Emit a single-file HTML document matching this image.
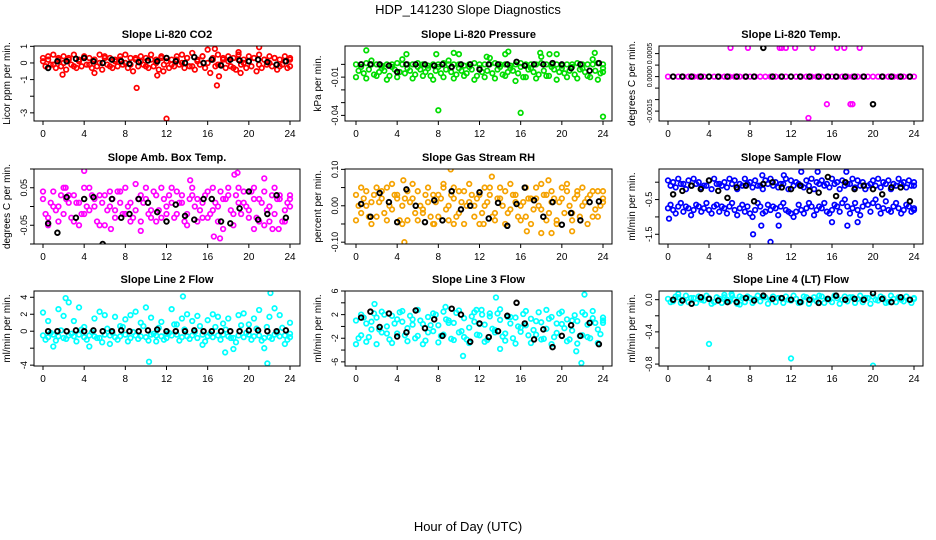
<!DOCTYPE html>
<html><head><meta charset="utf-8"><style>
html,body{margin:0;padding:0;background:#fff;}
svg{display:block;font-family:"Liberation Sans",sans-serif;}
</style></head><body>
<svg id="chart" width="936" height="540" viewBox="0 0 936 540">
<text x="468" y="14" font-size="13" text-anchor="middle">HDP_141230  Slope Diagnostics</text>
<text x="468" y="531" font-size="13" text-anchor="middle">Hour of Day (UTC)</text>
</svg>
<script>
// shared hour arrays
const H = [0,0.5,1,1.5,2,2.5,3,3.5,4,4.5,5,5.5,6,6.5,7,7.5,8,8.5,9,9.5,10,10.5,11,11.5,12,12.5,13,13.5,14,14.5,15,15.5,16,16.5,17,17.5,18,18.5,19,19.5,20,20.5,21,21.5,22,22.5,23,23.5,24];
const HB = [0.5,1.4,2.3,3.2,4.0,4.9,5.8,6.7,7.6,8.4,9.3,10.2,11.1,12.0,12.9,13.8,14.7,15.6,16.4,17.3,18.2,19.1,20.0,20.9,21.8,22.7,23.6];
const xTicks = [0,4,8,12,16,20,24];

// CO2
const co2A = [0.1,0.2,-0.1,0.3,0.0,0.2,-0.2,0.1,0.3,-0.1,0.2,0.0,0.3,-0.2,0.1,0.2,0.0,-0.1,0.3,0.1,-0.2,0.2,0.0,0.3,0.1,-0.1,0.2,0.0,0.3,-0.2,0.1,0.4,0.0,0.2,-0.1,0.3,0.1,-0.3,0.2,0.0,0.1,0.3,-0.1,0.2,0.0,0.3,-0.2,0.1,0.2];
const co2B = [-0.2,-0.1,-0.3,-0.2,-0.4,-0.1,-0.3,-0.2,-0.1,-0.3,-0.2,-0.4,-0.1,-0.3,-0.2,-0.1,-0.3,-0.5,-0.2,-0.1,-0.3,-0.2,-0.4,-0.1,-0.3,-0.2,-0.1,-0.3,-0.2,-0.4,-0.1,-0.3,-0.6,-0.2,-0.1,-0.3,-0.2,-0.4,-0.1,-0.3,-0.2,-0.5,-0.3,-0.1,-0.2,-0.4,-0.1,-0.3,-0.2];
const co2C = [0.3,0.4,0.5,0.2,0.4,0.3,0.5,0.2,0.4,0.3,0.2,0.5,0.4,0.3,0.2,0.4,0.5,0.3,0.2,0.4,0.3,0.5,0.2,0.4,0.3,0.2,0.4,0.5,0.3,0.6,0.2,0.4,0.8,0.3,0.5,0.2,0.4,0.3,0.5,0.2,0.4,0.3,0.5,0.2,0.4,0.3,0.2,0.4,0.3];
const co2OutH = [1.9,5.0,9.1,11.1,11.7,12,16.9,17.1,16.7,21,19,19.2];
const co2OutV = [-0.7,-0.6,-1.5,-0.75,-0.5,-3.35,-1.35,-0.8,0.85,0.95,0.65,-0.6];
const co2Blk = [-0.3,0.1,0.1,0.25,0.3,0.1,0.0,0.2,0.1,-0.05,0.05,0.15,0.1,0.3,0.1,0.0,0.35,0.0,0.2,-0.15,0.2,0.15,0.1,0.2,0.05,-0.1,0.1];

// Pressure
const prA = [0,0,0.001,0,0,-0.001,0,0,0.001,0,0,0,0.001,0,-0.001,0,0,0.001,0,0,0,-0.001,0,0.001,0,0,0,0.001,0,0,-0.001,0,0.001,0,0,0,0.001,0,0,0,-0.001,0,0,0.001,0,0,0,0.001,0];
const prB = [-0.005,-0.007,-0.004,-0.008,-0.006,-0.005,-0.009,-0.004,-0.006,-0.007,-0.005,-0.008,-0.004,-0.006,-0.009,-0.005,-0.007,-0.004,-0.006,-0.008,-0.005,-0.007,-0.004,-0.009,-0.006,-0.005,-0.007,-0.004,-0.008,-0.006,-0.005,-0.007,-0.010,-0.004,-0.006,-0.008,-0.005,-0.009,-0.004,-0.006,-0.007,-0.005,-0.008,-0.004,-0.006,-0.010,-0.005,-0.007,-0.006];
const prC = [-0.010,-0.002,-0.011,0.003,-0.009,-0.003,-0.012,-0.002,-0.010,0.004,-0.003,-0.011,-0.002,-0.009,-0.003,-0.012,-0.002,-0.010,0.003,-0.011,-0.003,-0.009,-0.002,-0.012,-0.003,-0.010,0.005,-0.011,-0.002,-0.009,-0.003,-0.013,-0.002,-0.010,-0.003,-0.011,0.006,-0.009,-0.002,-0.012,-0.003,-0.010,-0.002,-0.011,-0.003,-0.009,0.004,-0.012,-0.003];
const prOutH = [1,7.8,8,9.5,10,14.5,14.8,16,17.9,18.8,19.5,23.2,24,12.7,4.9];
const prOutV = [0.011,0.008,-0.036,0.009,0.008,0.008,0.010,-0.038,0.009,0.008,0.008,0.009,-0.041,0.006,0.008];
const prBlk = [0,0,0,-0.001,-0.006,0,0,0,-0.001,0,-0.002,0,0,-0.004,0,0,0,0.002,-0.001,0,0,0.001,0,-0.003,0,-0.005,0.001];

// Li-820 Temp
const tpA = [0,0,0,0,0,0,0,0,0,0,0,0,0,0,0,0,0,0,0,0,0,0,0,0,0,0,0,0,0,0,0,0,0,0,0,0,0,0,0,0,0,0,0,0,0,0,0,0,0];
const tpOutH = [6.1,7.8,10.9,11.1,11.5,12.4,14.1,16.5,17.2,18.7,15.5,17.8,18.0,13.7];
const tpOutV = [0.00125,0.00125,0.00125,0.00125,0.00125,0.00125,0.00125,0.00125,0.00125,0.00125,-0.0012,-0.0012,-0.0012,-0.0018];
const tpBlk = [0,0,0,0,0,0,0,0,0,0,0.00125,0,0,0,0,0,0,0,0,0,0,0,-0.0012,0,0,0,0];

// Amb Box Temp
const abA = [0.02,-0.03,0.04,0.00,-0.02,0.03,-0.04,0.01,0.05,-0.01,0.02,-0.05,0.03,0.00,-0.03,0.04,-0.02,0.01,0.06,-0.04,0.02,-0.01,0.03,-0.03,0.00,0.05,-0.02,0.01,-0.05,0.03,0.02,-0.03,0.04,-0.01,0.00,-0.06,0.03,-0.02,0.05,0.01,-0.03,0.02,-0.04,0.04,0.00,-0.02,0.03,-0.01,0.02];
const abB = [-0.02,0.01,-0.01,0.03,0.02,-0.03,0.01,-0.02,0.00,0.03,-0.04,0.01,-0.01,0.02,0.04,-0.02,0.00,-0.03,0.02,0.01,-0.02,0.04,-0.01,0.02,0.03,-0.03,0.01,-0.04,0.02,0.00,-0.01,0.03,-0.02,0.01,0.04,0.02,-0.01,0.03,-0.02,0.00,0.04,-0.03,0.01,-0.01,0.03,0.02,-0.04,0.01,0.00];
const abC = [0.04,-0.05,0.00,-0.04,0.05,0.01,0.03,-0.05,-0.02,0.05,0.00,0.03,-0.05,0.04,-0.01,0.01,0.05,-0.04,-0.01,0.03,0.05,-0.03,-0.04,0.05,-0.02,0.01,0.04,0.03,-0.02,0.05,-0.04,0.01,-0.03,0.05,-0.04,0.02,0.05,-0.05,0.01,0.04,-0.01,0.05,0.02,-0.05,-0.04,0.05,0.02,-0.04,0.03];
const abOutH = [4,6.6,14.3,16.6,17.2,18.6,18.9,20.5,21.5,22.3,22.9,2.2,9.5];
const abOutV = [0.095,-0.06,0.07,-0.08,-0.085,0.085,0.09,-0.06,0.075,-0.06,-0.06,0.05,-0.065];
const abBlk = [-0.045,-0.07,0.025,-0.03,0.02,0.025,-0.1,0.02,-0.03,-0.02,0.02,0.01,-0.015,-0.04,0.005,-0.025,-0.035,0.02,0.02,-0.04,-0.045,-0.005,0.04,-0.035,-0.02,0.03,-0.03];

// Gas Stream RH
const rhA = [0.03,-0.02,0.04,0.01,-0.03,0.02,0.05,-0.01,0.03,0.00,-0.04,0.02,0.04,-0.02,0.01,0.03,-0.03,0.05,0.00,0.02,-0.02,0.04,0.01,-0.03,0.03,0.00,0.05,-0.02,0.02,0.04,-0.01,0.03,0.00,-0.03,0.02,0.05,-0.01,0.03,0.01,-0.04,0.02,0.04,-0.02,0.03,0.00,0.02,-0.03,0.04,0.01];
const rhB = [0.00,0.02,-0.03,0.03,0.01,-0.02,0.00,0.03,-0.04,0.02,0.01,-0.02,0.00,0.03,-0.03,0.01,0.02,-0.01,0.03,-0.03,0.01,0.00,0.03,0.02,-0.02,0.01,-0.03,0.02,0.00,-0.02,0.03,-0.03,0.01,0.02,-0.01,0.00,0.03,-0.02,0.02,0.01,-0.02,0.00,0.02,-0.03,0.01,0.03,-0.01,0.00,0.02];
const rhC = [-0.04,0.05,0.00,-0.05,0.05,0.04,-0.04,0.06,0.02,-0.05,0.04,0.06,-0.04,-0.01,0.05,-0.05,0.03,0.06,-0.04,0.05,0.04,-0.05,0.06,0.00,-0.05,0.05,0.03,-0.04,0.05,-0.05,0.06,0.01,-0.04,0.05,-0.05,0.02,0.06,-0.04,0.04,-0.05,0.05,0.06,-0.04,0.04,0.05,-0.05,0.04,-0.03,0.04];
const rhOutH = [4.7,9.2,13.2,4.6,16.6,18.0,18.7,19.0,21.0,9.5,12.4,7.6];
const rhOutV = [-0.1,0.1,0.08,0.07,-0.07,-0.075,0.07,-0.075,-0.07,-0.05,-0.05,-0.05];
const rhBlk = [0.005,-0.03,0.035,0.01,-0.045,0.045,0.0,-0.045,0.015,-0.04,0.04,-0.01,0.0,0.037,-0.035,0.008,-0.055,0.005,0.05,0.015,-0.03,0.01,-0.052,-0.02,-0.04,0.01,0.012];

// Sample Flow
const sfA = [0.05,0,0.1,-0.05,0.05,0.1,0,-0.1,0.05,0.1,-0.05,0,0.1,0.05,-0.05,0.1,0,0.05,-0.1,0.05,0.1,0,-0.05,0.1,0.05,0,-0.1,0.05,0.1,0,0.05,-0.05,0.1,0,0.05,-0.05,0.1,0.05,0,-0.1,0.05,0.1,0,0.05,-0.05,0.1,0,0.05,0];
const sfB = [-0.1,-0.15,-0.05,-0.2,-0.1,-0.05,-0.15,-0.1,-0.2,-0.05,-0.1,-0.15,-0.05,-0.2,-0.1,-0.05,-0.15,-0.1,-0.2,-0.05,-0.1,-0.15,-0.05,-0.2,-0.1,-0.05,-0.15,-0.1,-0.2,-0.05,-0.1,-0.15,-0.05,-0.2,-0.1,-0.05,-0.15,-0.1,-0.2,-0.05,-0.1,-0.15,-0.05,-0.2,-0.1,-0.05,-0.15,-0.1,-0.1];
const sfC = [-0.75,-0.8,-0.7,-0.85,-0.75,-0.8,-0.7,-0.75,-0.8,-0.7,-0.85,-0.75,-0.7,-0.8,-0.75,-0.85,-0.9,-0.8,-0.7,-0.85,-0.8,-0.75,-0.7,-0.8,-0.9,-0.85,-0.8,-0.75,-0.7,-0.8,-0.75,-0.85,-0.8,-0.7,-0.6,-0.7,-0.75,-0.8,-0.7,-0.65,-0.6,-0.7,-0.75,-0.8,-0.7,-0.75,-0.8,-0.7,-0.75];
const sfD = [-0.65,-0.9,-0.6,-0.7,-0.95,-0.65,-0.85,-0.6,-0.9,-0.65,-0.7,-0.9,-0.6,-0.95,-0.65,-0.7,-1.0,-0.6,-0.9,-0.65,-0.7,-0.95,-0.6,-0.85,-1.0,-0.65,-0.9,-0.6,-0.95,-0.7,-0.6,-0.9,-0.65,-0.85,-0.5,-0.9,-0.6,-0.95,-0.55,-0.85,-0.5,-0.9,-0.55,-0.85,-0.6,-0.9,-0.65,-0.85,-0.8];
const sfOutH = [0.1,8.3,9.1,10,10.8,13,14.6,17.4,17.5,18.5,16,9.2,11.3];
const sfOutV = [-1.05,-1.5,-1.25,-1.72,-1.25,0.3,0.3,0.3,-1.25,-1.15,-1.15,0.2,0.2];
const sfBlk = [-0.35,-0.25,-0.1,-0.2,0.05,-0.25,-0.45,-0.15,-0.1,-0.55,-0.05,0.0,-0.15,-0.2,-0.1,-0.25,-0.3,0.15,-0.4,0.0,-0.2,-0.1,-0.2,-0.35,-0.15,-0.15,-0.55];

// Line 2 Flow
const l2A = [-0.5,-0.7,-0.4,-0.6,-0.8,-0.5,-0.6,-0.4,-0.7,-0.5,-0.6,-0.8,-0.4,-0.5,-0.7,-0.6,-0.4,-0.8,-0.5,-0.6,-0.7,-0.4,-0.5,-0.6,-0.8,-0.5,-0.4,-0.7,-0.6,-0.5,-0.8,-0.4,-0.6,-0.7,-0.5,-0.4,-0.6,-0.8,-0.5,-0.7,-0.4,-0.6,-0.5,-0.8,-0.7,-0.4,-0.6,-0.5,-0.7];
const l2B = [-1.0,-0.2,-1.1,0.1,-0.9,-0.3,-1.2,0.2,-1.0,-0.1,-0.8,-1.3,0.3,-0.2,-1.0,0.5,-1.2,-0.1,-0.9,0.6,-1.1,-0.3,0.4,-1.0,-0.2,0.8,-1.1,0.2,-0.9,-0.1,0.6,-1.2,-0.3,0.5,-1.0,0.2,-0.8,-1.3,0.7,-0.2,-1.0,0.3,-1.1,0.5,-0.9,-0.2,0.4,-1.0,-0.3];
const l2C = [2.2,1.2,-1.8,2.6,1.8,3.4,1.2,2.8,0.5,-1.8,1.5,2.3,1.9,-1.5,1.7,0.6,1.4,1.9,2.3,1.0,2.8,1.6,-1.2,1.1,-0.3,2.6,0.8,1.5,2.0,1.2,1.8,-1.6,1.3,2.0,1.7,0.9,1.5,-2.1,1.9,2.1,0.8,1.5,2.5,-2.0,1.7,2.7,1.9,-1.5,1.0];
const l2OutH = [2.2,10.3,13.6,22.1,21.8,17.7];
const l2OutV = [3.9,-3.6,4.1,4.5,-3.8,-2.5];
const l2Blk = [0,0,0,0.1,0,0.1,0,0,0.1,0,0,0.1,0.2,0,0,0,0.1,0,0,0,0,0,0.1,0.1,0,0,0.1];

// Line 3 Flow
const l3A = [1.0,-1.5,0.5,-0.5,1.5,-1.0,0.0,1.8,-1.2,0.8,-0.3,1.2,-1.6,0.4,1.6,-0.8,0.2,-1.4,1.0,0.6,-1.0,1.4,-0.2,0.8,-1.5,0.3,1.7,-0.6,1.1,-1.2,0.5,1.5,-0.9,0.2,1.3,-1.4,0.7,-0.4,1.6,-1.1,0.4,1.2,-0.7,0.9,-1.5,0.3,1.4,-0.5,1.0];
const l3B = [-2.0,1.5,-1.8,2.2,-0.5,2.0,-2.2,0.5,2.4,-1.5,1.8,-2.0,1.0,-2.4,0.2,2.0,-1.6,1.2,-2.1,2.3,-0.8,-2.2,1.7,-1.4,2.0,-2.3,-0.4,2.2,-1.7,1.6,-2.0,0.0,2.1,-1.5,-0.6,2.4,-2.1,1.3,-1.8,2.2,-0.3,-2.2,1.9,-1.6,2.0,-2.0,0.6,-1.3,1.5];
const l3C = [-3.0,2.0,-2.6,0.8,-3.0,2.5,-1.2,-2.8,1.2,2.6,-2.5,0.3,2.8,-3.0,-1.0,2.2,-2.7,2.5,0.6,-2.3,2.7,-1.8,-2.8,2.4,0.4,-2.6,2.2,-1.0,2.9,-2.4,1.6,-2.9,-0.2,2.6,-2.8,0.9,-2.2,2.8,-3.0,0.5,2.5,-2.5,1.0,-2.9,2.4,-1.8,2.6,-2.8,0.6];
const l3OutH = [1.8,8.7,11.7,12.2,13.6,10.4,14,21.4,21.9,22.2];
const l3OutV = [3.8,3.3,2.8,2.8,4.9,-5.0,-3.8,-4.2,-6.2,5.4];
const l3Blk = [1.5,2.5,-0.1,2.2,-1.7,-1.0,2.7,-0.3,1.2,-1.6,3.0,2.0,-2.6,0.5,-1.8,-0.8,1.8,4.0,0.5,-2.2,-0.5,-3.5,-1.6,0.2,-1.6,0.6,-3.0];

// Line 4 (LT) Flow
const l4A = [0.01,-0.02,0.03,0.0,-0.03,0.02,0.04,-0.01,0.02,-0.03,0.01,0.03,-0.02,0.0,0.04,-0.03,0.02,0.01,-0.02,0.03,0.0,-0.03,0.02,0.04,-0.01,0.01,-0.03,0.03,0.0,-0.02,0.04,0.01,-0.03,0.02,0.0,-0.02,0.03,0.01,-0.03,0.02,0.04,-0.01,0.02,-0.03,0.01,0.03,-0.02,0.0,0.02];
const l4B = [-0.03,0.04,-0.04,0.05,0.02,-0.04,0.0,0.05,-0.05,0.03,-0.04,0.0,0.05,-0.05,0.02,0.04,-0.04,0.05,0.03,-0.05,0.04,0.02,-0.04,0.0,0.05,-0.04,0.04,-0.05,0.03,0.05,-0.04,0.0,0.05,-0.05,0.04,0.03,-0.04,0.05,0.02,-0.05,0.0,0.04,-0.04,0.05,-0.03,0.0,0.04,-0.04,0.01];
const l4OutH = [4,12,20,7,1.0,5.5,6.2];
const l4OutV = [-0.55,-0.73,-0.82,-0.06,0.07,0.06,0.07];
const l4Blk = [0.0,-0.01,-0.05,0.03,0.01,-0.01,-0.03,-0.03,0.02,-0.01,0.05,0.01,0.02,0.0,-0.03,0.0,-0.04,0.01,0.05,0.0,0.01,0.0,0.08,0.01,-0.03,0.03,0.0];

// y ticks
const co2Ticks = [1,0,-1,-2,-3], co2Labels = ["1","0","-1","","-3"];
const prTicks = [0,-0.01,-0.02,-0.03,-0.04], prLabels = ["","-0.01","","","-0.04"];
const tpTicks = [0.001,0.0005,0,-0.0005,-0.001,-0.0015], tpLabels = ["0.0005","","0.0000","","","-0.0015"];
const abTicks = [0.1,0.05,0,-0.05,-0.1], abLabels = ["","0.05","","-0.05",""];
const rhTicks = [0.1,0.05,0,-0.05,-0.1], rhLabels = ["0.10","","0.00","","-0.10"];
const sfTicks = [0,-0.5,-1,-1.5], sfLabels = ["","-0.5","","-1.5"];
const l2Ticks = [4,2,0,-2,-4], l2Labels = ["4","2","0","","-4"];
const l3Ticks = [6,4,2,0,-2,-4,-6], l3Labels = ["6","","2","","-2","","-6"];
const l4Ticks = [0,-0.2,-0.4,-0.6,-0.8], l4Labels = ["0.0","","-0.4","","-0.8"];

const NS = "http://www.w3.org/2000/svg";
const svg = document.getElementById('chart');
function mk(tag, attrs, parent){const e=document.createElementNS(NS,tag);for(const k in attrs)e.setAttribute(k,attrs[k]);(parent||svg).appendChild(e);return e;}

const cols = [{l:34,r:300,x0:43,x1:290},{l:345,r:612,x0:356,x1:603},{l:659,r:923,x0:668,x1:914}];
const rows = [{t:46,b:121},{t:169,b:244},{t:291,b:366}];

const panels = [
 {name:'co2',title:'Slope Li-820 CO2',ylab:'Licor ppm per min.',c:0,r:0,dom:[-3.49,1.02],color:'#ff0000',series:[co2A,co2B,co2C],oh:co2OutH,ov:co2OutV,blk:co2Blk,ticks:co2Ticks,labels:co2Labels,fs:9},
 {name:'pressure',title:'Slope Li-820 Pressure',ylab:'kPa per min.',c:1,r:0,dom:[-0.0444,0.0144],color:'#00dd00',series:[prA,prB,prC],oh:prOutH,ov:prOutV,blk:prBlk,ticks:prTicks,labels:prLabels,fs:9},
 {name:'li820-temp',title:'Slope Li-820 Temp.',ylab:'degrees C per min.',c:2,r:0,dom:[-0.00193,0.00133],color:'#ff00ff',series:[tpA],oh:tpOutH,ov:tpOutV,blk:tpBlk,ticks:tpTicks,labels:tpLabels,fs:7},
 {name:'amb-box-temp',title:'Slope Amb. Box Temp.',ylab:'degrees C per min.',c:0,r:1,dom:[-0.1,0.1],color:'#ff00ff',series:[abA,abB,abC],oh:abOutH,ov:abOutV,blk:abBlk,ticks:abTicks,labels:abLabels,fs:9},
 {name:'gas-stream-rh',title:'Slope Gas Stream RH',ylab:'percent per min.',c:1,r:1,dom:[-0.105,0.101],color:'#f5a200',series:[rhA,rhB,rhC],oh:rhOutH,ov:rhOutV,blk:rhBlk,ticks:rhTicks,labels:rhLabels,fs:9},
 {name:'sample-flow',title:'Slope Sample Flow',ylab:'ml/min per min.',c:2,r:1,dom:[-1.78,0.38],color:'#0000ff',series:[sfA,sfB,sfC,sfD],oh:sfOutH,ov:sfOutV,blk:sfBlk,ticks:sfTicks,labels:sfLabels,fs:9},
 {name:'line2-flow',title:'Slope Line 2 Flow',ylab:'ml/min per min.',c:0,r:2,dom:[-4.1,4.74],color:'#00ffff',series:[l2A,l2B,l2C],oh:l2OutH,ov:l2OutV,blk:l2Blk,ticks:l2Ticks,labels:l2Labels,fs:9},
 {name:'line3-flow',title:'Slope Line 3 Flow',ylab:'ml/min per min.',c:1,r:2,dom:[-6.7,6.0],color:'#00ffff',series:[l3A,l3B,l3C],oh:l3OutH,ov:l3OutV,blk:l3Blk,ticks:l3Ticks,labels:l3Labels,fs:9},
 {name:'line4-flow',title:'Slope Line 4 (LT) Flow',ylab:'ml/min per min.',c:2,r:2,dom:[-0.824,0.108],color:'#00ffff',series:[l4A,l4B],oh:l4OutH,ov:l4OutV,blk:l4Blk,ticks:l4Ticks,labels:l4Labels,fs:9}
];

panels.forEach(p=>{
  const C=cols[p.c], R=rows[p.r];
  const g=mk('g',{});
  
  
  const xs=h=>C.x0+(h/24)*(C.x1-C.x0);
  const ys=v=>R.b-(v-p.dom[0])/(p.dom[1]-p.dom[0])*(R.b-R.t);
  const t=mk('text',{x:(C.l+C.r)/2,y:R.t-8,'font-size':11,'font-weight':'bold','text-anchor':'middle'},g);
  t.textContent=p.title;
  
  
  const yl=mk('text',{x:0,y:0,'font-size':10,'text-anchor':'middle',transform:`translate(${C.l-24},${(R.t+R.b)/2}) rotate(-90)`},g);
  yl.textContent=p.ylab;
  
  
  const cid='clip-'+p.name;
  const cp=mk('clipPath',{id:cid},g); mk('rect',{x:C.l,y:R.t,width:C.r-C.l,height:R.b-R.t},cp);
  const pts=mk('g',{'clip-path':`url(#${cid})`,fill:'none','stroke-width':1.7},g);
  
  
  p.series.forEach((s,si)=>{
    s.forEach((v,i)=>{
      const off = si%2===1 ? 0.25 : 0;
      const hh = Math.min(24, H[i]+off);
      const c=mk('circle',{cx:xs(hh),cy:ys(v),r:2.3,stroke:p.color},pts);
      
      
    });
  });
  p.oh.forEach((h,i)=>{
    const c=mk('circle',{cx:xs(h),cy:ys(p.ov[i]),r:2.3,stroke:p.color},pts);
    
    
  });
  p.blk.forEach((v,i)=>{
    const c=mk('circle',{cx:xs(HB[i]),cy:ys(v),r:2.3,stroke:'#000','stroke-width':1.9},pts);
    
    
  });
  const bx=mk('rect',{x:C.l,y:R.t,width:C.r-C.l,height:R.b-R.t,fill:'none',stroke:'#000','stroke-width':1},g);
  
  
  xTicks.forEach(h=>{
    const x=xs(h);
    mk('line',{x1:x,x2:x,y1:R.b,y2:R.b+4,stroke:'#000'},g);
    const tl=mk('text',{x:x,y:R.b+16,'font-size':10,'text-anchor':'middle'},g);
    tl.textContent=h;
    
    
  });
  p.ticks.forEach((v,i)=>{
    const y=ys(v);
    mk('line',{x1:C.l-4,x2:C.l,y1:y,y2:y,stroke:'#000'},g);
    if(p.labels[i]){
      const tl=mk('text',{x:0,y:0,'font-size':p.fs,'text-anchor':'middle',transform:`translate(${C.l-7},${y}) rotate(-90)`},g);
      tl.textContent=p.labels[i];
      
      
    }
  });
});
</script>
</body></html>
